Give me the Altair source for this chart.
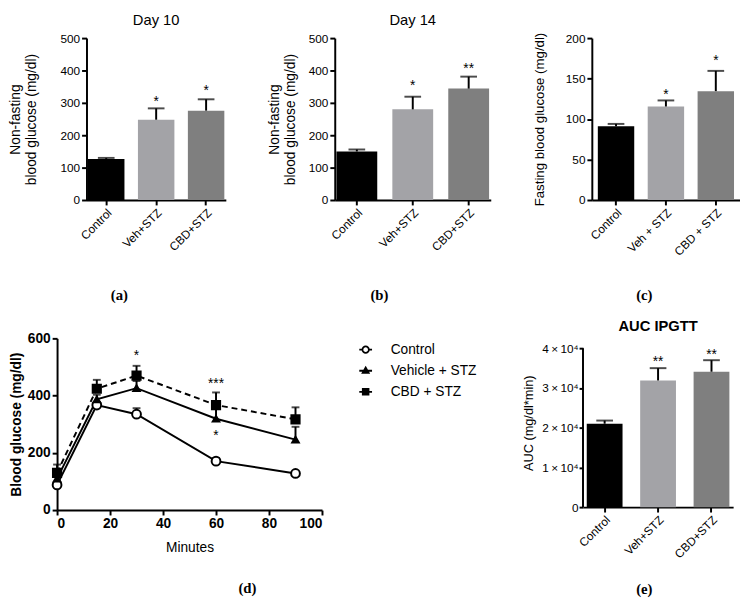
import altair as alt
import pandas as pd

# ---------------- data ----------------
cats_ab = ["Control", "Veh+STZ", "CBD+STZ"]
cats_c = ["Control", "Veh + STZ", "CBD + STZ"]
bar_colors = ["#000000", "#a3a3a7", "#7f7f7f"]

day10_mean = [127, 248, 276]
day10_err = [3, 35, 35]
day10_star_y = [0, 314, 348]
day10_star = ["", "*", "*"]

day14_mean = [150, 280, 344]
day14_err = [6, 39, 37]
day14_star_y = [0, 363, 418]
day14_star = ["", "*", "**"]

fast_mean = [91, 115.5, 134.5]
fast_err = [3, 7.5, 25]
fast_star_y = [0, 135, 177]
fast_star = ["", "*", "*"]

auc_mean = [21000, 31900, 34100]
auc_err = [800, 3100, 2900]
auc_star_y = [0, 37400, 39300]
auc_star = ["", "**", "**"]

series = ["Control", "Vehicle + STZ", "CBD + STZ"]
minutes = [0, 15, 30, 60, 90]
ctrl_mean = [88, 367, 335, 171, 128]
ctrl_err = [6, 8, 21, 9, 6]
veh_mean = [110, 387, 426, 319, 246]
veh_err = [14, 16, 25, 40, 45]
cbd_mean = [130, 424, 470, 367, 317]
cbd_err = [29, 31, 34, 44, 42]
ipgtt_star_t = [30, 60, 60]
ipgtt_star_y = [551, 454, 271]
ipgtt_star = ["*", "***", "*"]

SANS = "Liberation Sans"
SERIF = "Liberation Serif"


def bar_panel(cats, means, errs, star_y, star_txt, width, height, ydomain, yvalues,
              ytitle, ytitle_pad, title, sub, sub_x, sub_y, pad_in, pad_out,
              title_size=14, label_expr=None, axis_rule_to=None, tick=5, lab_pad=2):
    df = pd.DataFrame({"cat": cats, "mean": means,
                       "upper": [m + e for m, e in zip(means, errs)],
                       "col": bar_colors})
    sdf = pd.DataFrame({"cat": [c for c, s in zip(cats, star_txt) if s],
                        "y": [v for v, s in zip(star_y, star_txt) if s],
                        "lab": [s for s in star_txt if s]})
    xaxis = alt.Axis(title=sub, labelAngle=-45, labelFontSize=12,
                     titleFont=SERIF, titleFontSize=15, titleFontWeight="bold",
                     titleX=sub_x, titleY=sub_y, titleAlign="center",
                     titleBaseline="middle")
    x = alt.X("cat:N", sort=cats,
              scale=alt.Scale(paddingInner=pad_in, paddingOuter=pad_out),
              axis=xaxis)
    ykw = dict(values=yvalues, title=ytitle, titleFontSize=title_size,
               titlePadding=ytitle_pad, labelFontSize=12, titleLineHeight=16,
               tickSize=tick, labelPadding=lab_pad)
    if label_expr:
        ykw["labelExpr"] = label_expr
    if axis_rule_to is not None:
        ykw["domain"] = False

    def Y(field):
        return alt.Y(f"{field}:Q", scale=alt.Scale(domain=ydomain, nice=False),
                     axis=alt.Axis(**ykw))

    base = alt.Chart(df)
    bars = base.mark_bar().encode(x=x, y=Y("mean"),
                                  color=alt.Color("col:N", scale=None))
    rule = base.mark_rule(color="black", strokeWidth=2).encode(
        x=x, y=Y("mean"), y2="upper:Q")
    cap = base.mark_tick(color="black", thickness=2, size=17).encode(
        x=x, y=Y("upper"))
    stars = alt.Chart(sdf).mark_text(fontSize=14, font=SANS, baseline="alphabetic",
                                     dy=8, color="black").encode(
        x=x, y=Y("y"), text="lab:N")
    layers = [bars, rule, cap, stars]
    if axis_rule_to is not None:
        ax = alt.Chart(pd.DataFrame({"a": [0], "b": [axis_rule_to]})).mark_rule(
            color="black", strokeWidth=2).encode(
            x=alt.value(0), y=Y("a"), y2="b:Q")
        layers.append(ax)
    props = dict(width=width, height=height)
    if title:
        props["title"] = title
    return alt.layer(*layers).properties(**props)


a = bar_panel(cats_ab, day10_mean, day10_err, day10_star_y, day10_star, 142, 165,
              [0, 500], [0, 100, 200, 300, 400, 500],
              ["Non-fasting", "blood glucose (mg/dl)"], 22,
              alt.TitleParams("Day 10", fontSize=15, fontWeight="normal", font=SANS,
                              offset=4, anchor="middle", frame="group"),
              "(a)", 33, 96, 0.27, 0.03)
b = bar_panel(cats_ab, day14_mean, day14_err, day14_star_y, day14_star, 159, 165,
              [0, 500], [0, 100, 200, 300, 400, 500],
              ["Non-fasting", "blood glucose (mg/dl)"], 11,
              alt.TitleParams("Day 14", fontSize=15, fontWeight="normal", font=SANS,
                              offset=4, anchor="middle", frame="group"),
              "(b)", 45, 96, 0.27, 0.03)
c = bar_panel(cats_c, fast_mean, fast_err, fast_star_y, fast_star, 151, 165,
              [0, 200], [0, 50, 100, 150, 200],
              "Fasting blood glucose (mg/dl)", 19, None,
              "(c)", 53, 96, 0.27, 0.12, title_size=13.5)
e = bar_panel(cats_ab, auc_mean, auc_err, auc_star_y, auc_star, 153, 172,
              [0, 42500], [0, 10000, 20000, 30000, 40000],
              "AUC (mg/dl*min)", 6,
              alt.TitleParams("AUC IPGTT", fontSize=15, fontWeight="bold", font=SANS,
                              offset=5, anchor="middle", frame="group"),
              "(e)", 62, 83, 0.33, 0.07, title_size=13,
              label_expr="datum.value == 0 ? '0' : format(datum.value / 10000, 'd') + '\u2009×\u200910⁴'",
              axis_rule_to=40000, tick=4, lab_pad=1)

# ---------------- panel d ----------------
shapes = ["circle", "triangle-up", "square"]
fills = ["white", "black", "black"]
sizes = [80, 45, 70]
rows = []
for s, ms, es, shp, fc, sz in zip(series, [ctrl_mean, veh_mean, cbd_mean],
                                  [ctrl_err, veh_err, cbd_err], shapes, fills, sizes):
    for t, m, er in zip(minutes, ms, es):
        rows.append(dict(series=s, t=t, mean=m, upper=m + er, shp=shp, fillcol=fc, sz=sz))
ddf = pd.DataFrame(rows)
sdf_d = pd.DataFrame({"t": ipgtt_star_t, "y": ipgtt_star_y, "lab": ipgtt_star})

D_SHIFT = 30
D_W = 240
dx = alt.X("t:Q", scale=alt.Scale(domain=[0, 100], nice=False, range=[-D_SHIFT, D_W]),
           axis=alt.Axis(values=[0, 20, 40, 60, 80, 100], title="Minutes",
                         labelFontSize=14, labelFontWeight="bold", titleFontSize=14,
                         titlePadding=10))


def DY(field):
    return alt.Y(f"{field}:Q", scale=alt.Scale(domain=[0, 600], nice=False),
                 axis=alt.Axis(values=[0, 200, 400, 600], title="Blood glucose (mg/dl)",
                               titleFontWeight="bold", titleFontSize=14, offset=D_SHIFT,
                               labelFontSize=14, labelFontWeight="bold", titlePadding=4))


legend_paths = [
    "M-1,0L-0.5,0M0.5,0L1,0M0.5,0A0.5,0.5,0,1,1,-0.5,0A0.5,0.5,0,1,1,0.5,0Z",
    "M-1,0L1,0M0,-0.5L0.47,0.32L-0.47,0.32Z",
    "M-1,0L-0.45,0M0.45,0L1,0M-0.45,-0.45L0.45,-0.45L0.45,0.45L-0.45,0.45Z",
]
leg = alt.Legend(title=None, orient="right", offset=33, padding=4, labelFontSize=14,
                 labelFont=SANS, labelColor="black", labelOffset=18, rowPadding=6.5,
                 symbolSize=169, symbolOpacity=1, symbolStrokeColor="black",
                 symbolStrokeWidth=1.8)

dbase = alt.Chart(ddf)
solid = alt.Chart(ddf[ddf.series != "CBD + STZ"]).mark_line(
    color="black", strokeWidth=2).encode(x=dx, y=DY("mean"), detail="series:N")
dashed = alt.Chart(ddf[ddf.series == "CBD + STZ"]).mark_line(
    color="black", strokeWidth=2, strokeDash=[6, 4]).encode(x=dx, y=DY("mean"))
erule = dbase.mark_rule(color="black", strokeWidth=2).encode(
    x=dx, y=DY("mean"), y2="upper:Q")
ecap = dbase.mark_tick(color="black", thickness=2, size=8, orient="horizontal").encode(
    x=dx, y=DY("upper"))
pts = dbase.mark_point(filled=True, stroke="black", strokeWidth=2, opacity=1).encode(
    x=dx, y=DY("mean"),
    shape=alt.Shape("shp:N", scale=None),
    fill=alt.Fill("fillcol:N", scale=None),
    size=alt.Size("sz:Q", scale=None))
legl = dbase.mark_point(filled=True, opacity=0, stroke="black", strokeWidth=1.8).encode(
    x=dx, y=DY("mean"),
    shape=alt.Shape("series:N", scale=alt.Scale(domain=series, range=legend_paths), legend=leg),
    fill=alt.Fill("series:N", scale=alt.Scale(domain=series, range=fills), legend=leg))
dstars = alt.Chart(sdf_d).mark_text(fontSize=14, font=SANS, baseline="alphabetic", dy=8,
                                    color="black").encode(x=dx, y=DY("y"), text="lab:N")

d = alt.layer(solid, dashed, erule, ecap, pts, legl, dstars).properties(
    width=D_W, height=175,
    title=alt.TitleParams("(d)", orient="bottom", font=SERIF, fontSize=15,
                          fontWeight="bold", offset=28, dx=44, anchor="middle",
                          frame="group"))

row1 = alt.hconcat(a, b, c, spacing=42)
row2 = alt.hconcat(d, e, spacing=43).resolve_scale(
    shape="independent", fill="independent").resolve_legend(
    shape="independent", fill="independent")
chart = alt.vconcat(row1, row2, spacing=17).resolve_scale(
    shape="independent", fill="independent").resolve_legend(
    shape="independent", fill="independent").properties(padding=0).configure(
    font=SANS
).configure_view(stroke=None).configure_axis(
    domainColor="black", domainWidth=2, tickColor="black", tickWidth=2, tickSize=5,
    labelColor="black", titleColor="black", grid=False, labelFont=SANS,
    titleFont=SANS, titleFontWeight="normal", labelPadding=2
).configure_title(color="black")

chart.save("out.html", embed_options={"renderer": "svg", "actions": False})
